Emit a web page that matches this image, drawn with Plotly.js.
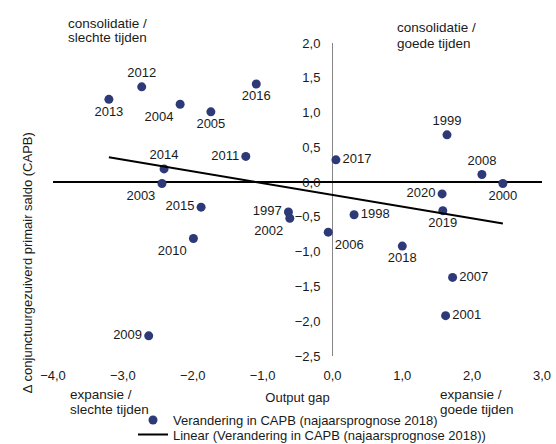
<!DOCTYPE html>
<html>
<head>
<meta charset="utf-8">
<script src="https://cdn.plot.ly/plotly-3.0.1.min.js"></script>
<style>html,body{margin:0;padding:0;background:#fff;}#chart{width:556px;height:444px;}</style>
</head>
<body>
<div id="chart"></div>
<script>
// Data
var years = ["1997","1998","1999","2000","2001","2002","2003","2004","2005","2006","2007","2008",
             "2009","2010","2011","2012","2013","2014","2015","2016","2017","2018","2019","2020"];
var outputGap = [-0.63, 0.31, 1.64, 2.44, 1.62, -0.61, -2.44, -2.18, -1.74, -0.06, 1.72, 2.14,
                 -2.63, -1.99, -1.24, -2.73, -3.20, -2.41, -1.88, -1.09, 0.05, 1.00, 1.58, 1.57];
var capbChange = [-0.43, -0.47, 0.68, -0.02, -1.92, -0.52, -0.02, 1.12, 1.01, -0.72, -1.37, 0.11,
                  -2.21, -0.81, 0.37, 1.37, 1.19, 0.19, -0.36, 1.41, 0.32, -0.92, -0.41, -0.17];
var xTickVals = [-4, -3, -2, -1, 0, 1, 2, 3];
var yTickVals = [-2.5, -2, -1.5, -1, -0.5, 0, 0.5, 1, 1.5, 2];
var seriesName = "Verandering in CAPB (najaarsprognose 2018)";
var trendName = "Linear (Verandering in CAPB (najaarsprognose 2018))";
var yTitle = "∆ conjunctuurgezuiverd primair saldo (CAPB)";
var xTitle = "Output gap";

// label placement per point (style, not data)
var labelPos = {
  "1997":"middle left","1998":"middle right","1999":"top center","2000":"bottom center",
  "2001":"middle right","2002":"bottom left","2003":"bottom left","2004":"bottom left",
  "2005":"bottom center","2006":"bottom right","2007":"middle right","2008":"top center",
  "2009":"middle left","2010":"bottom left","2011":"middle left","2012":"top center",
  "2013":"bottom center","2014":"top center","2015":"middle left","2016":"bottom center",
  "2017":"middle right","2018":"bottom center","2019":"bottom center","2020":"middle left"
};

// linear regression (Excel-style trendline)
var n = outputGap.length, sx = 0, sy = 0;
for (var i = 0; i < n; i++) { sx += outputGap[i]; sy += capbChange[i]; }
var mx = sx / n, my = sy / n, sxy = 0, sxx = 0;
for (var i = 0; i < n; i++) { sxy += (outputGap[i]-mx)*(capbChange[i]-my); sxx += (outputGap[i]-mx)*(outputGap[i]-mx); }
var slope = sxy / sxx, icpt = my - slope * mx;
var xmin = Math.min.apply(null, outputGap), xmax = Math.max.apply(null, outputGap);

var FONT = "Liberation Sans, Arial, sans-serif";
var TXT = "#1a1a1a";

var traces = [
  {
    type: "scatter", mode: "markers+text", name: seriesName, legend: "legend",
    x: outputGap, y: capbChange, text: years,
    textposition: years.map(function(y){ return labelPos[y]; }),
    textfont: {family: FONT, size: 13, color: TXT},
    marker: {size: 9, color: "#2E3A78"},
    cliponaxis: false, hoverinfo: "x+y+text"
  },
  {
    type: "scatter", mode: "lines", name: trendName, legend: "legend2",
    x: [xmin, xmax], y: [icpt + slope*xmin, icpt + slope*xmax],
    line: {color: "#000000", width: 2}, hoverinfo: "skip"
  }
];

var W = 556, H = 444, L = 53, R = 14, T = 43, B = 88;
var pw = W - L - R, ph = H - T - B;
function px2x(px){ return (px - L) / pw; }
function px2y(py){ return (H - B - py) / ph; }

var legendBase = {
  xanchor: "left", yanchor: "middle", orientation: "v",
  font: {family: FONT, size: 13, color: TXT},
  bgcolor: "rgba(0,0,0,0)", itemwidth: 30
};

// corner notes, one line per annotation so the line spacing matches
var notes = [
  ["consolidatie /", 66, 23], ["slechte tijden", 66, 38],
  ["consolidatie /", 395, 27], ["goede tijden", 395, 43],
  ["expansie /", 68, 394], ["slechte tijden", 68, 409],
  ["expansie /", 438, 394], ["goede tijden", 438, 409]
];
var annotations = notes.map(function(nt){
  return {xref: "paper", yref: "paper", x: px2x(nt[1]), y: px2y(nt[2]),
          xanchor: "left", yanchor: "middle", text: nt[0], showarrow: false,
          font: {family: FONT, size: 13.5, color: TXT}};
});
annotations.push({xref: "paper", yref: "paper", x: px2x(27), y: px2y(263),
  xanchor: "center", yanchor: "middle", text: yTitle, textangle: -90, showarrow: false,
  font: {family: FONT, size: 13, color: TXT}});

var layout = {
  width: W, height: H,
  margin: {l: L, r: R, t: T, b: B, pad: 0, autoexpand: false},
  paper_bgcolor: "#ffffff", plot_bgcolor: "#ffffff",
  separators: ",.",
  font: {family: FONT, size: 13, color: TXT},
  showlegend: true,
  legend: Object.assign({x: px2x(133), y: px2y(420)}, legendBase),
  legend2: Object.assign({x: px2x(133), y: px2y(434.5)}, legendBase),
  xaxis: {
    range: [-4, 3], tickvals: xTickVals, tickformat: ".1f",
    showgrid: false, zeroline: true, zerolinecolor: "#868686", zerolinewidth: 1,
    showline: false, ticks: "", ticklabelstandoff: 10,
    tickfont: {family: FONT, size: 13, color: TXT},
    title: {text: xTitle, standoff: 10, font: {family: FONT, size: 13, color: TXT}}
  },
  yaxis: {
    range: [-2.5, 2], tickvals: yTickVals, tickformat: ".1f",
    anchor: "free", position: 4/7,
    showgrid: false, zeroline: true, zerolinecolor: "#000000", zerolinewidth: 1.3,
    showline: false, ticks: "", ticklabelstandoff: 12,
    tickfont: {family: FONT, size: 13, color: TXT}
  },
  annotations: annotations
};

Plotly.newPlot("chart", traces, layout, {displayModeBar: false, staticPlot: true});
</script>
</body>
</html>
